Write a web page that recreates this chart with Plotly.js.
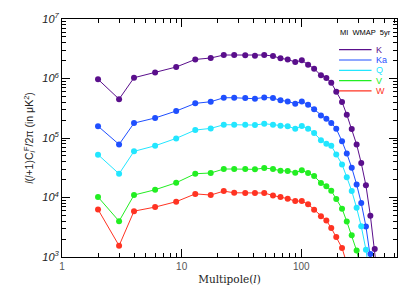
<!DOCTYPE html>
<html>
<head>
<meta charset="utf-8">
<script src="https://cdn.plot.ly/plotly-3.0.1.min.js"></script>
<style>html,body{margin:0;padding:0;background:#fff;}#chart{width:415px;height:297px;}</style>
</head>
<body>
<div id="chart"></div>
<script>
// Multipole bins
const ell = [2,3,4,6,9,13,17.5,22.5,27.5,34,41,49,58,67,77,89,101,114,128,146,162,178,196,219,240,264,290,317,347,378,411,445];

// Band names and colours
const bandNames = ["K","Ka","Q","V","W"];
const bandColors = ["#5a0f8c","#1f4fff","#22e6ff","#22ee22","#ff3322"];

// l(l+1)C_l/2pi values (muK^2) per band
const K  = [9.7e5,4.5e5,1.03e6,1.26e6,1.56e6,2.09e6,2.21e6,2.48e6,2.48e6,2.46e6,2.42e6,2.48e6,2.39e6,2.18e6,2.09e6,1.89e6,2.02e6,1.71e6,1.46e6,1.13e6,1.02e6,8.5e5,6.0e5,4.03e5,2.47e5,1.42e5,7.8e4,3.8e4,1.6e4,4.94e3,1.36e3,3.0e2];
const Ka = [1.58e5,7.8e4,1.78e5,2.17e5,2.84e5,3.82e5,4.07e5,4.75e5,4.75e5,4.72e5,4.57e5,4.81e5,4.70e5,4.29e5,4.12e5,3.77e5,4.12e5,3.63e5,3.03e5,2.40e5,2.11e5,1.79e5,1.43e5,8.8e4,5.5e4,3.17e4,1.66e4,8.1e3,3.27e3,1.12e3,3.0e2];
const Q  = [5.25e4,2.5e4,5.97e4,7.4e4,9.85e4,1.36e5,1.45e5,1.67e5,1.67e5,1.67e5,1.65e5,1.74e5,1.67e5,1.61e5,1.57e5,1.43e5,1.59e5,1.43e5,1.21e5,9.2e4,8.0e4,7.4e4,5.3e4,3.6e4,2.2e4,1.29e4,6.7e3,3.3e3,1.33e3,4.0e2];
const V  = [1.02e4,4.0e3,1.1e4,1.35e4,1.77e4,2.51e4,2.58e4,3.01e4,3.01e4,3.01e4,2.97e4,3.13e4,3.01e4,2.82e4,2.79e4,2.61e4,2.86e4,2.58e4,2.30e4,1.75e4,1.54e4,1.30e4,9.4e3,6.5e3,3.96e3,2.31e3,1.28e3,6.0e2];
const W  = [6.3e3,1.55e3,5.9e3,6.9e3,8.5e3,1.15e4,1.10e4,1.28e4,1.20e4,1.19e4,1.19e4,1.19e4,1.08e4,1.02e4,9.55e3,8.7e3,8.7e3,7.7e3,6.2e3,4.85e3,4.1e3,3.07e3,2.17e3,1.42e3,7.8e2];
const bandValues = [K,Ka,Q,V,W];

// Tick labels
const yTickVals = [1e3,1e4,1e5,1e6,1e7];
const yTickText = ["10<sup>3</sup>","10<sup>4</sup>","10<sup>5</sup>","10<sup>6</sup>","10<sup>7</sup>"];
const xTickVals = [1,10,100];
const xTickText = ["1","10","100"];
const legendTitle = "MI  WMAP  5yr";

const traces = bandValues.map((vals, i) => ({
  x: ell.slice(0, vals.length),
  y: vals,
  type: "scatter",
  mode: "lines+markers",
  line: {color: bandColors[i], width: 1},
  marker: {color: bandColors[i], size: 6},
  showlegend: false,
  cliponaxis: true,
  hoverinfo: "skip"
}));

// Legend drawn inside plot
const shapes = [];
const annotations = [{
  xref: "paper", yref: "paper", x: 0.825, y: 0.942,
  text: legendTitle, showarrow: false, xanchor: "left", yanchor: "middle",
  font: {family: "Liberation Sans, Arial, sans-serif", size: 7.5, color: "#000"}
}];
bandNames.forEach((n, i) => {
  const yy = 0.871 - i * 0.0433;
  shapes.push({type: "line", xref: "paper", yref: "paper", x0: 0.827, x1: 0.924, y0: yy, y1: yy,
    line: {color: bandColors[i], width: 1.2}});
  annotations.push({xref: "paper", yref: "paper", x: 0.93, y: yy, text: n, showarrow: false,
    xanchor: "left", yanchor: "middle",
    font: {family: "Liberation Sans, Arial, sans-serif", size: 9, color: bandColors[i]}});
});

const layout = {
  width: 415, height: 297,
  margin: {l: 62, r: 18, t: 19, b: 40, pad: 0},
  paper_bgcolor: "#fff", plot_bgcolor: "#fff",
  showlegend: false,
  font: {family: "Liberation Sans, Arial, sans-serif", size: 10, color: "#222"},
  xaxis: {
    type: "log", range: [0, 2.8],
    tickvals: xTickVals, ticktext: xTickText,
    ticks: "inside", ticklen: 8, tickwidth: 1, tickcolor: "#000",
    minor: {ticks: "inside", ticklen: 4, tickcolor: "#000", dtick: "D1"},
    showline: true, linecolor: "#000", linewidth: 1, mirror: "allticks",
    showgrid: false, zeroline: false,
    tickfont: {size: 10, color: "#555"},
    title: {text: "Multipole(<i>l</i>)", standoff: 4,
      font: {family: "DejaVu Serif, Liberation Serif, serif", size: 10.5, color: "#222"}}
  },
  yaxis: {
    type: "log", range: [3, 7],
    tickvals: yTickVals, ticktext: yTickText,
    ticks: "inside", ticklen: 8, tickwidth: 1, tickcolor: "#000",
    minor: {ticks: "inside", ticklen: 4, tickcolor: "#000", dtick: "D1"},
    showline: true, linecolor: "#000", linewidth: 1, mirror: "allticks",
    showgrid: false, zeroline: false,
    tickfont: {size: 11, color: "#222", style: "italic"},
    title: {text: "<i>l</i>(<i>l</i>+1)C<sub><i>l</i></sub><sup>F</sup>/2π (in μK<sup>2</sup>)", standoff: 6,
      font: {size: 10.5, color: "#222"}}
  },
  shapes: shapes,
  annotations: annotations
};

Plotly.newPlot("chart", traces, layout, {staticPlot: true, displayModeBar: false});
</script>
</body>
</html>
